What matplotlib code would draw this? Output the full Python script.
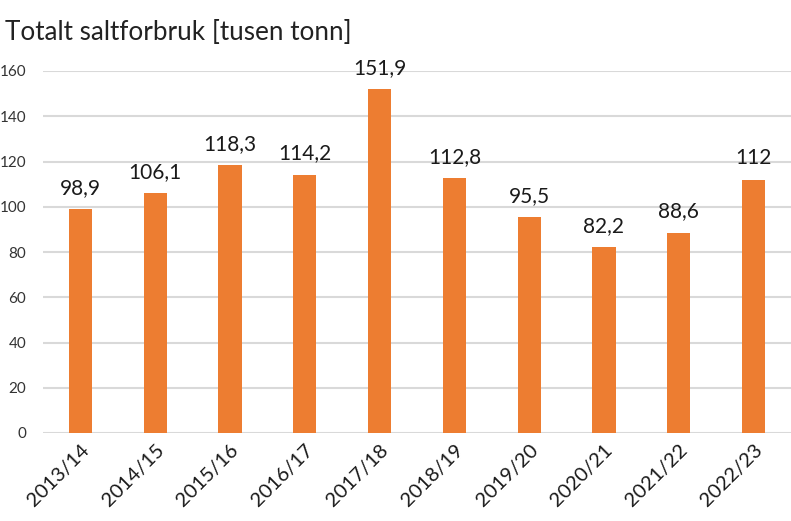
import matplotlib
matplotlib.use("Agg")
import matplotlib.pyplot as plt

categories = ["2013/14", "2014/15", "2015/16", "2016/17", "2017/18",
              "2018/19", "2019/20", "2020/21", "2021/22", "2022/23"]
values = [98.9, 106.1, 118.3, 114.2, 151.9, 112.8, 95.5, 82.2, 88.6, 112]
labels = ["98,9", "106,1", "118,3", "114,2", "151,9", "112,8", "95,5", "82,2", "88,6", "112"]
yticks = [0, 20, 40, 60, 80, 100, 120, 140, 160]

plt.rcParams['font.family'] = ['Lato', 'DejaVu Sans']

fig = plt.figure(figsize=(7.91, 5.21), dpi=100)
ax = fig.add_axes([43/791, 1-433/521, 748/791, 362/521])

x = list(range(len(categories)))
bars = ax.bar(x, values, width=0.31, color="#ED7D31", zorder=3)
for xi, v, lab in zip(x, values, labels):
    ax.annotate(lab, (xi, v), xytext=(0, 8), textcoords="offset points",
                ha="center", va="bottom", fontsize=15, color="#1a1a1a")

ax.set_xlim(-0.5, len(categories) - 0.5)
ax.set_ylim(0, 160)
ax.set_yticks(yticks)
ax.set_yticklabels([str(t) for t in yticks], fontsize=11, color="#333333")
ax.set_xticks(x)
ax.set_xticklabels(categories, rotation=45, ha="right", rotation_mode="anchor",
                   fontsize=14.5, color="#1a1a1a")
ax.grid(axis="y", color="#d9d9d9", linewidth=1.5, zorder=0)
for s in ax.spines.values():
    s.set_visible(False)
ax.tick_params(axis="both", length=0)
ax.tick_params(axis="y", pad=12)
ax.tick_params(axis="x", pad=6)

fig.text(5/791, 1-40/521, "Totalt saltforbruk [tusen tonn]", fontsize=18.8,
         fontweight="normal", color="#222222", ha="left", va="baseline")

fig.savefig("out.png", dpi=100)
